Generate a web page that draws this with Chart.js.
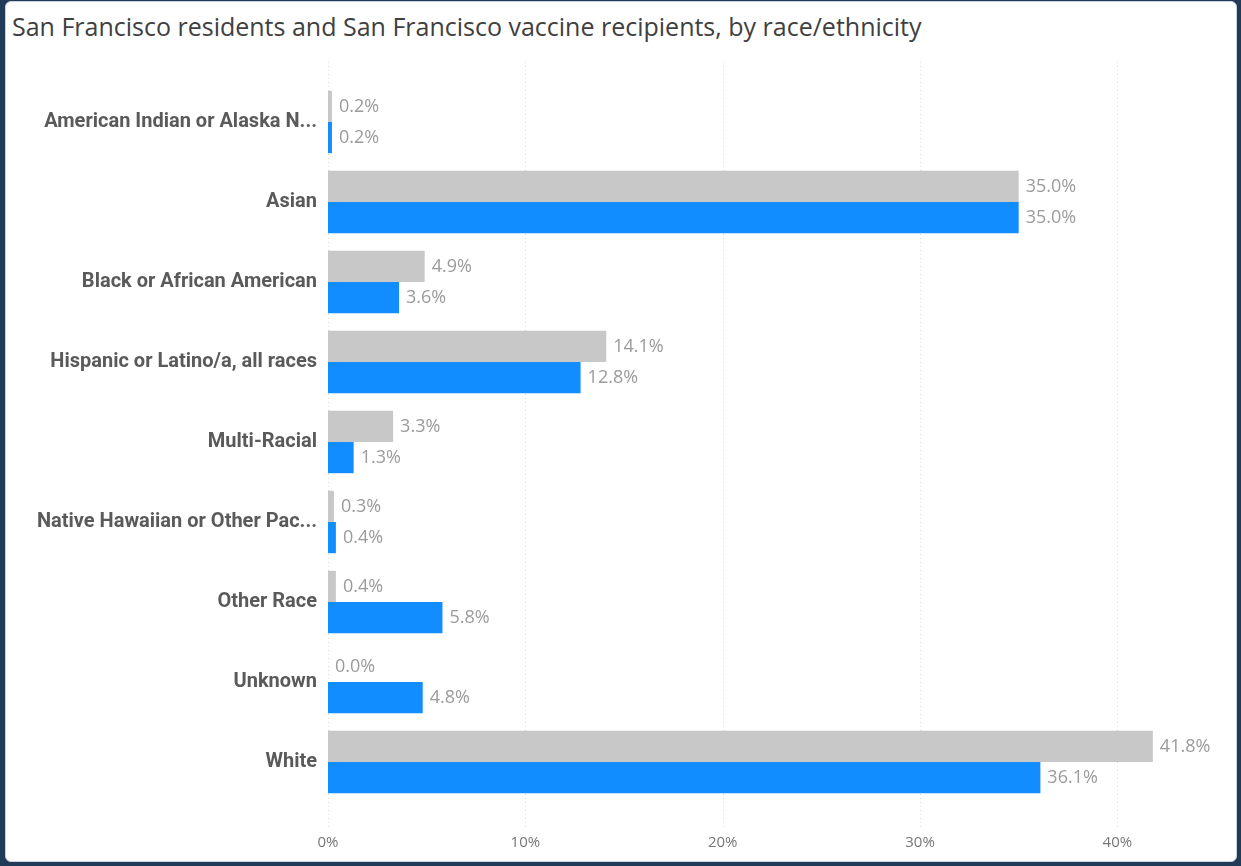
<!DOCTYPE html>
<html>
<head>
<meta charset="utf-8">
<script src="https://cdn.jsdelivr.net/npm/chart.js@4/dist/chart.umd.min.js"></script>
<style>
  html, body { margin: 0; padding: 0; }
  body { width: 1241px; height: 866px; background: #1f3b57; position: relative; overflow: hidden; }
  #panel { position: absolute; left: 5px; top: 1px; width: 1230px; height: 859px; background: #fff;
           border: 1px solid #c9d3dc; border-radius: 6px; }
  #title { position: absolute; left: 12px; top: 9px; font-family: "Open Sans", sans-serif;
           font-size: 25px; color: #404040; white-space: nowrap; }
  #chart { position: absolute; left: 0; top: 0; }
</style>
</head>
<body>
<div id="panel"></div>
<div id="title">San Francisco residents and San Francisco vaccine recipients, by race/ethnicity</div>
<canvas id="chart" width="1241" height="866"></canvas>
<script>
// categories, as shown (long names are cut by the report)
const categories = [
    'American Indian or Alaska N...',
    'Asian',
    'Black or African American',
    'Hispanic or Latino/a, all races',
    'Multi-Racial',
    'Native Hawaiian or Other Pac...',
    'Other Race',
    'Unknown',
    'White'
];
// share of SF residents (%)
const residents = [0.2, 35.0, 4.9, 14.1, 3.3, 0.3, 0.4, 0.0, 41.8];
// share of SF vaccine recipients (%)
const recipients = [0.2, 35.0, 3.6, 12.8, 1.3, 0.4, 5.8, 4.8, 36.1];
const xTicks = [0, 10, 20, 30, 40];

// dotted vertical grid, a bit taller than the plot area
const gridPlugin = {
    id: 'tallGrid',
    beforeDatasetsDraw(chart) {
        const { ctx, chartArea, scales } = chart;
        ctx.save();
        ctx.strokeStyle = '#d9d9d9';
        ctx.lineWidth = 1;
        ctx.setLineDash([1, 3]);
        xTicks.forEach(t => {
            const x = Math.round(scales.x.getPixelForValue(t)) + 0.5;
            ctx.beginPath();
            ctx.moveTo(x, chartArea.top - 20);
            ctx.lineTo(x, chartArea.bottom + 26);
            ctx.stroke();
        });
        ctx.restore();
    }
};

// value labels at the end of each bar
const valueLabels = {
    id: 'valueLabels',
    afterDatasetsDraw(chart) {
        const { ctx } = chart;
        ctx.save();
        ctx.font = '18px "Open Sans", sans-serif';
        ctx.fillStyle = '#9b9b9b';
        ctx.textBaseline = 'middle';
        ctx.textAlign = 'left';
        chart.data.datasets.forEach((ds, i) => {
            chart.getDatasetMeta(i).data.forEach((bar, j) => {
                ctx.fillText(ds.data[j].toFixed(1) + '%', bar.x + 7, bar.y);
            });
        });
        ctx.restore();
    }
};

new Chart(document.getElementById('chart'), {
    type: 'bar',
    data: {
        labels: categories,
        datasets: [
            { label: 'San Francisco residents', data: residents, backgroundColor: '#c8c8c8',
              categoryPercentage: 0.78, barPercentage: 1.0 },
            { label: 'San Francisco vaccine recipients', data: recipients, backgroundColor: '#118dff',
              categoryPercentage: 0.78, barPercentage: 1.0 }
        ]
    },
    options: {
        indexAxis: 'y',
        responsive: false,
        animation: false,
        layout: { padding: { top: 82, bottom: 16, right: 25, left: 0 } },
        plugins: {
            legend: { display: false },
            tooltip: { enabled: false }
        },
        scales: {
            x: {
                min: 0,
                max: 45,
                afterBuildTicks: scale => { scale.ticks = xTicks.map(v => ({ value: v })); },
                afterFit: scale => { scale.height = 48; },
                grid: { display: false },
                border: { display: false },
                ticks: {
                    padding: 24,
                    maxRotation: 0,
                    color: '#777777',
                    font: { family: '"Open Sans", sans-serif', size: 15 },
                    callback: v => v + '%'
                }
            },
            y: {
                afterFit: scale => { scale.width = 328; },
                grid: { display: false },
                border: { display: false },
                ticks: {
                    padding: 3,
                    color: '#5a5a5a',
                    font: { family: 'Roboto, sans-serif', size: 20, weight: 'bold' }
                }
            }
        }
    },
    plugins: [gridPlugin, valueLabels]
});
</script>
</body>
</html>
